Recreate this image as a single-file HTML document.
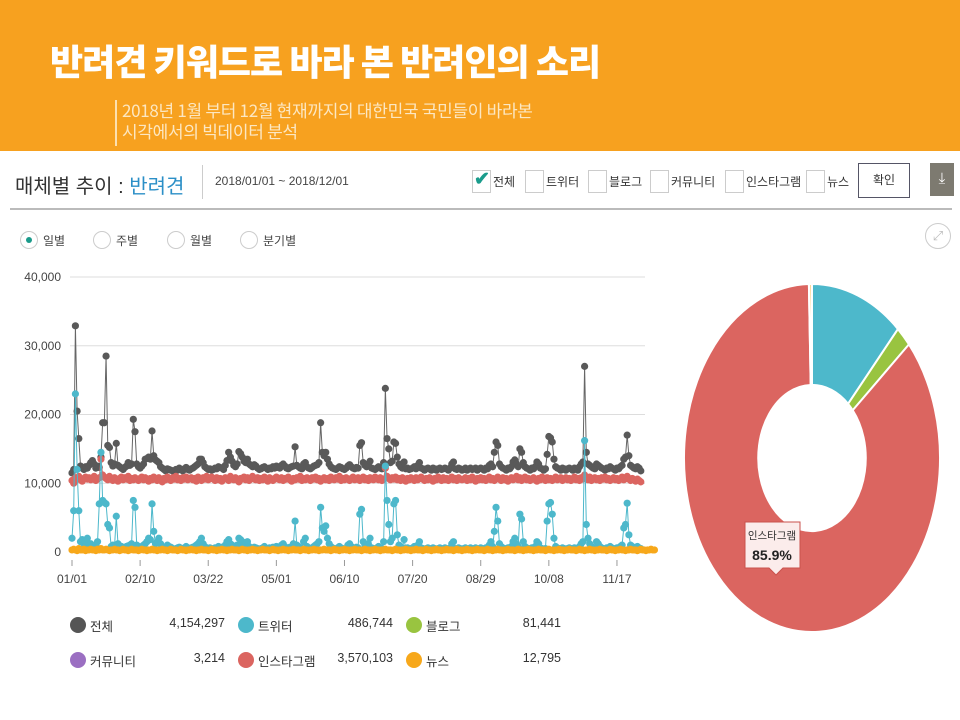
<!DOCTYPE html>
<html><head><meta charset="utf-8">
<style>
body{margin:0;width:960px;height:720px;overflow:hidden;background:#fff;font-family:"Liberation Sans","Noto Sans CJK KR",sans-serif;position:relative}
.abs{position:absolute}
.hdr{left:0;top:0;width:960px;height:151px;background:#F7A11F}
.title{left:50px;top:34px;color:#fff;font-size:36px;font-weight:900;letter-spacing:-1px;white-space:nowrap;font-family:"Noto Sans CJK KR",sans-serif}
.sub{left:122px;top:99px;color:#FCE7C2;font-size:17px;line-height:21px;white-space:nowrap;font-family:"Noto Sans CJK KR",sans-serif;letter-spacing:-0.3px}
.vl{left:115px;top:100px;width:2px;height:46px;background:#FCE0B0}
.cb{width:17px;height:21px;border:1px solid #ccc;background:#fff}
.cbl{font-size:12px;color:#333;top:173px;white-space:nowrap}
.rad{width:16px;height:16px;border:1px solid #ccc;border-radius:50%;top:231px}
.rl{font-size:12px;color:#444;top:232px}
.leg{font-size:12.5px;color:#333;white-space:nowrap}
</style></head><body>
<div class="abs hdr"></div>
<div class="abs title">반려견 키워드로 바라 본 반려인의 소리</div>
<div class="abs vl"></div>
<div class="abs sub">2018년 1월 부터 12월 현재까지의 대한민국 국민들이 바라본<br>시각에서의 빅데이터 분석</div>

<div class="abs" style="left:15px;top:170px;font-size:20px;color:#333;white-space:nowrap">매체별 추이 : <span style="color:#2B8FC7">반려견</span></div>
<div class="abs" style="left:202px;top:165px;width:1px;height:34px;background:#ccc"></div>
<div class="abs" style="left:215px;top:174px;font-size:12px;color:#444">2018/01/01 ~ 2018/12/01</div>

<div class="abs cb" style="left:472px;top:170px"><span style="position:absolute;left:1px;top:-3px;color:#1a9c8c;font-size:19px;font-weight:bold">✔</span></div>
<div class="abs cbl" style="left:493px">전체</div>
<div class="abs cb" style="left:525px;top:170px"></div>
<div class="abs cbl" style="left:546px">트위터</div>
<div class="abs cb" style="left:588px;top:170px"></div>
<div class="abs cbl" style="left:609px">블로그</div>
<div class="abs cb" style="left:650px;top:170px"></div>
<div class="abs cbl" style="left:671px">커뮤니티</div>
<div class="abs cb" style="left:725px;top:170px"></div>
<div class="abs cbl" style="left:746px">인스타그램</div>
<div class="abs cb" style="left:806px;top:170px"></div>
<div class="abs cbl" style="left:827px">뉴스</div>
<div class="abs" style="left:858px;top:163px;width:50px;height:33px;border:1px solid #556;font-size:12px;color:#333;text-align:center;line-height:33px">확인</div>
<div class="abs" style="left:930px;top:163px;width:24px;height:33px;background:#7d7a70;color:#fff;font-size:15px;text-align:center;line-height:31px">⤓</div>
<div class="abs" style="left:10px;top:208px;width:942px;height:2px;background:#bbb"></div>

<div class="abs rad" style="left:20px"><div style="position:absolute;left:5px;top:5px;width:6px;height:6px;border-radius:50%;background:#1a9a8a"></div></div>
<div class="abs rl" style="left:43px">일별</div>
<div class="abs rad" style="left:93px"></div>
<div class="abs rl" style="left:116px">주별</div>
<div class="abs rad" style="left:167px"></div>
<div class="abs rl" style="left:190px">월별</div>
<div class="abs rad" style="left:240px"></div>
<div class="abs rl" style="left:263px">분기별</div>
<div class="abs" style="left:925px;top:223px;width:24px;height:24px;border:1px solid #ccc;border-radius:50%;color:#bbb;font-size:13px;text-align:center;line-height:24px">⤢</div>

<svg class="abs" style="left:0;top:0" width="960" height="720" id="chart"></svg>

<div class="abs" style="left:0;top:0" id="legend"></div>

<script>
const tw=[20,60,230,120,60,15,18,12,14,20,10,12,8,9,10,15,70,145,75,72,70,40,35,8,10,9,52,12,9,8,6,7,8,9,10,12,75,65,10,8,6,8,10,12,15,20,18,70,30,12,15,20,12,8,6,5,10,8,7,5,4,5,6,7,4,5,6,8,6,5,6,7,8,10,12,15,20,12,8,6,5,6,4,5,6,5,8,6,7,5,10,15,18,12,10,8,6,10,20,18,15,10,12,15,8,6,5,7,6,5,4,5,6,8,5,4,6,5,7,5,8,6,5,10,12,8,6,5,7,6,12,45,10,8,6,5,15,20,8,6,5,6,8,10,12,15,65,35,30,38,20,12,8,6,5,4,6,8,6,5,4,5,10,12,8,6,5,7,6,55,62,15,10,8,12,20,6,5,4,6,8,6,5,15,125,75,40,15,20,70,75,25,10,8,6,18,5,6,4,5,6,8,5,10,15,6,5,4,5,6,5,4,6,5,4,5,6,4,5,6,5,4,6,12,15,5,4,6,5,4,5,6,4,5,6,4,5,6,4,5,6,5,4,6,5,10,15,8,30,65,45,12,8,6,5,4,6,5,8,15,20,12,8,55,48,15,8,6,5,4,6,5,8,15,12,6,5,4,5,45,70,72,55,20,8,6,5,4,6,5,4,5,6,5,4,6,5,4,8,12,15,162,40,20,12,8,6,5,15,12,8,6,5,4,6,5,8,6,5,4,6,5,8,10,35,40,71,25,10,8,6,5,8,6,5];
const insta=[104,100,108,106,110,105,103,107,109,106,108,105,107,110,104,106,108,135,112,109,107,105,110,106,104,108,106,103,107,109,105,108,106,110,104,107,105,108,106,104,107,109,105,108,106,103,107,105,109,106,104,108,106,102,107,105,109,106,104,108,106,110,105,107,104,108,106,109,105,107,108,105,107,103,109,106,104,108,106,110,105,107,109,106,104,108,105,107,103,106,108,106,104,110,107,105,108,106,102,107,106,109,105,108,104,107,110,106,105,108,104,107,105,109,106,103,108,106,104,107,109,106,105,108,104,107,106,109,105,103,107,105,108,106,110,104,107,105,108,106,104,108,106,109,105,107,103,106,108,105,107,104,109,106,105,108,106,110,104,107,105,108,106,104,107,109,105,106,108,104,106,109,105,107,104,108,106,105,109,107,105,108,104,106,122,110,107,105,108,106,109,105,107,104,108,106,103,107,105,108,106,104,108,105,107,109,106,104,107,105,108,106,103,107,105,109,106,104,108,105,107,104,106,109,105,107,104,108,106,105,106,108,104,107,105,109,106,103,107,105,108,105,107,104,106,109,105,107,104,106,109,106,104,108,105,107,103,106,108,105,107,110,105,108,104,106,109,105,107,104,106,108,105,103,107,105,109,106,104,108,105,107,104,106,109,105,107,108,104,106,108,105,107,104,106,109,105,107,104,108,106,112,107,105,109,104,106,108,105,107,104,108,106,109,105,107,104,106,108,105,107,104,106,109,105,108,110,106,104,107,105,103,106,104,102];
const total=[115,120,329,205,165,125,122,120,124,122,126,130,133,128,122,125,123,138,188,188,285,155,152,130,125,128,158,126,124,122,120,123,125,130,126,128,193,175,128,124,122,125,128,135,136,138,135,176,140,134,132,130,124,122,120,118,121,120,119,118,117,120,119,122,120,118,121,123,120,119,121,122,124,126,128,135,135,130,124,122,120,121,119,120,122,121,124,123,122,120,126,133,145,138,132,126,124,128,146,143,138,132,130,135,128,126,124,127,125,122,120,121,123,124,122,120,122,121,124,122,125,123,122,126,128,125,122,121,123,124,125,153,126,124,122,121,128,130,124,122,121,123,125,126,127,130,188,145,140,145,135,128,124,122,121,120,122,124,123,121,120,122,125,127,124,122,121,123,122,155,159,130,126,124,128,132,122,121,120,122,124,122,121,130,238,165,150,130,132,160,158,138,128,124,122,131,121,122,120,121,122,124,121,126,130,122,121,119,121,122,121,119,122,121,119,121,122,120,121,122,121,119,122,128,131,121,120,122,121,119,120,122,119,121,122,120,121,122,119,121,122,121,119,122,121,126,128,124,145,160,155,128,124,122,121,119,122,121,124,131,134,128,124,150,145,130,124,122,121,119,122,121,124,131,128,122,121,119,121,142,168,166,160,135,124,122,121,119,122,121,119,121,122,121,119,122,121,119,124,128,131,270,145,128,126,124,122,121,128,126,124,122,121,119,122,121,124,122,121,119,122,121,124,126,135,138,170,140,126,124,122,121,124,122,118];
const news=[3,4,3,2,5,3,3,4,2,3,3,4,3,3,2,4,3,5,3,3,4,3,2,3,3,4,3,3,2,3,4,3,3,2,3,4,3,3,3,2,3,4,3,3,2,3,3,4,3,3,2,3,3,4,3,3,2,3,4,3,3,3,2,3,4,3,3,2,3,3,4,3,3,2,3,3,4,3,3,3,2,3,4,3,3,2,3,3,4,3,3,2,3,3,4,3,3,3,2,3,4,3,3,2,3,3,4,3,3,2,3,3,4,3,3,3,2,3,4,3,3,2,3,3,4,3,3,2,3,3,4,3,3,3,2,3,4,3,3,2,3,3,4,3,3,2,3,3,4,3,3,3,2,3,4,3,3,2,3,3,4,3,3,2,3,3,4,3,3,3,2,3,4,3,3,2,3,3,4,3,3,2,3,3,4,3,3,3,2,3,4,3,3,2,3,3,4,3,3,2,3,3,4,3,3,3,2,3,4,3,3,2,3,3,4,3,3,2,3,3,4,3,3,3,2,3,4,3,3,2,3,3,4,3,3,2,3,3,4,3,3,3,2,3,4,3,3,2,3,3,4,3,3,2,3,3,4,3,3,3,2,3,4,3,3,2,3,3,4,3,3,2,3,3,4,3,3,3,2,3,4,3,3,2,3,3,4,3,3,2,3,3,4,3,3,3,2,3,4,3,3,2,3,3,4,3,3,2,3,3,4,3,3,3,2,3,4,3,3,2,3,3,4,3,3,2,3,3,4,3,3,3,2,3,4,3,3,2,3,3,4,3,3];
const yTicks=[0,10000,20000,30000,40000];
const yTickLabels=["0","10,000","20,000","30,000","40,000"];
const xTickDays=[0,40,80,120,160,200,240,280,320];
const xTickLabels=["01/01","02/10","03/22","05/01","06/10","07/20","08/29","10/08","11/17"];
const pieNames=["트위터","블로그","인스타그램","커뮤니티","뉴스"];
const pieValues=[486744,81441,3570103,3214,12795];
const pieColors=["#4DB8CB","#99C440","#DB6560","#9B6FC2","#F7A81B"];
const legNames=["전체","트위터","블로그","커뮤니티","인스타그램","뉴스"];
const legValues=["4,154,297","486,744","81,441","3,214","3,570,103","12,795"];
const legColors=["#555","#4DB8CB","#99C440","#9B6FC2","#DB6560","#F7A81B"];

const NS="http://www.w3.org/2000/svg";
const svg=document.getElementById('chart');
const X=d=>72+d*1.703, Y=v=>552-v/40000*275;
function mk(t,a,p){const e=document.createElementNS(NS,t);for(const k in a)e.setAttribute(k,a[k]);(p||svg).appendChild(e);return e;}
yTicks.forEach((v,i)=>{
  const g=mk('line',{x1:70,x2:645,y1:Y(v),y2:Y(v),stroke:i==0?'#ccc':'#ddd','stroke-width':1});
  
  
  const t=mk('text',{x:61,y:Y(v)+4,'text-anchor':'end','font-size':12,fill:'#444'});t.textContent=yTickLabels[i];
  
  
});
xTickDays.forEach((d,i)=>{
  mk('line',{x1:X(d),x2:X(d),y1:560,y2:566,stroke:'#999'});
  const t=mk('text',{x:X(d),y:583,'text-anchor':'middle','font-size':12,fill:'#444'});t.textContent=xTickLabels[i];
  
  
});
function series(arr,scale,color,lc,name){
  const g=mk('g',{});
  
  
  mk('polyline',{points:arr.map((v,i)=>X(i)+','+Y(v*scale)).join(' '),fill:'none',stroke:lc,'stroke-width':1},g);
  arr.forEach((v,i)=>{const c=mk('circle',{cx:X(i),cy:Y(v*scale),r:3.6,fill:color},g);
    
    });
}
series(total,100,'#595959','#666','series-total');
series(insta,100,'#DB6560','#DB6560','series-instagram');
series(tw,100,'#4DB8CB','#4DB8CB','series-twitter');
series(news,100,'#F7A81B','#F7A81B','series-news');

const cx=812,cy=458,rx=128,ry=174,ir=0.42;
const pg=mk('g',{});


const sum=pieValues.reduce((a,b)=>a+b,0);let a0=-Math.PI/2;
pieValues.forEach((v,i)=>{
  const a1=a0+v/sum*2*Math.PI;const lg=(a1-a0)>Math.PI?1:0;
  const P=(a,s)=>[cx+Math.cos(a)*rx*s,cy+Math.sin(a)*ry*s];
  const [x0,y0]=P(a0,1),[x1,y1]=P(a1,1),[x2,y2]=P(a1,ir),[x3,y3]=P(a0,ir);
  const p=mk('path',{d:`M${x0},${y0}A${rx},${ry} 0 ${lg} 1 ${x1},${y1}L${x2},${y2}A${rx*ir},${ry*ir} 0 ${lg} 0 ${x3},${y3}Z`,fill:pieColors[i],stroke:'#fff','stroke-width':2},pg);
  
  
  a0=a1;
});
const tip=mk('g',{});


mk('path',{d:'M745,522 H800 V568 H783 L776,575 L769,568 H745 Z',fill:'#fbeceb',stroke:'#c9524d','stroke-width':1},tip);
const t1=mk('text',{x:772,y:539,'text-anchor':'middle','font-size':10.5,fill:'#333'},tip);t1.textContent='인스타그램';
const t2=mk('text',{x:772,y:560,'text-anchor':'middle','font-size':14,fill:'#222','font-weight':'bold'},tip);t2.textContent=(pieValues[2]/sum*100).toFixed(1)+'%';

const L=document.getElementById('legend');
legNames.forEach((n,i)=>{
  const col=i%3,row=Math.floor(i/3);
  const bx=70+col*168,by=614+row*35;
  const d=document.createElement('div');d.className='abs leg';d.style.left=bx+'px';d.style.top=by+'px';d.style.width='160px';d.style.height='22px';
  
  
  d.innerHTML=`<span style="position:absolute;left:0;top:3px;width:16px;height:16px;border-radius:50%;background:${legColors[i]}"></span><span style="position:absolute;left:20px;top:2px">${n}</span><span style="position:absolute;right:5px;top:2px">${legValues[i]}</span>`;
  L.appendChild(d);
});
</script>
</body></html>
